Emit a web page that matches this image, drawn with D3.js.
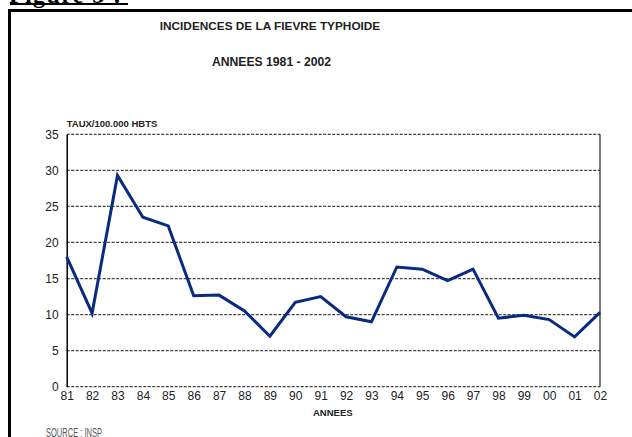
<!DOCTYPE html>
<html><head><meta charset="utf-8">
<script src="https://cdn.jsdelivr.net/npm/d3@7"></script>
<style>body{margin:0;background:#fff}svg{display:block}</style>
</head><body>
<svg id="c" width="632" height="437"></svg>
<script>
const years = ["81","82","83","84","85","86","87","88","89","90","91","92","93","94","95","96","97","98","99","00","01","02"];
const rates = [18.0,10.2,29.3,23.5,22.3,12.6,12.7,10.5,7.0,11.7,12.5,9.7,9.0,16.6,16.3,14.7,16.3,9.5,9.9,9.3,6.9,10.3];
const yTicks = [0,5,10,15,20,25,30,35];
const title1 = "INCIDENCES DE LA FIEVRE TYPHOIDE";
const title2 = "ANNEES 1981 - 2002";

const svg = d3.select("#c");
const m = {l:66.7, r:600, t:134.3, b:386.7};
const x = d3.scalePoint().domain(years).range([m.l, m.r]);
const y = d3.scaleLinear().domain([0,35]).range([m.b, m.t]);

// Figure label
svg.append("text").attr("x",9).attr("y",3).attr("font-family","Liberation Serif, serif")
  .attr("font-weight","bold").attr("font-size",24).attr("textLength",112).text("Figure 3 :");
svg.append("rect").attr("x",10).attr("y",3).attr("width",118).attr("height",2).attr("fill","#000");
// outer frame
svg.append("rect").attr("x",8).attr("y",9).attr("width",624).attr("height",3).attr("fill","#000");
svg.append("rect").attr("x",8).attr("y",9).attr("width",3).attr("height",428).attr("fill","#000");

const tf = "Liberation Sans, Arial, sans-serif";
svg.append("text").attr("x",270).attr("y",30).attr("text-anchor","middle").attr("font-family",tf)
  .attr("font-weight","bold").attr("font-size",11.8).attr("fill","#222").text(title1);
svg.append("text").attr("x",271.5).attr("y",66).attr("text-anchor","middle").attr("font-family",tf)
  .attr("font-weight","bold").attr("font-size",12.2).attr("fill","#222").text(title2);
svg.append("text").attr("x",m.l).attr("y",127).attr("font-family",tf)
  .attr("font-weight","bold").attr("font-size",9.5).attr("fill","#222").text("TAUX/100.000 HBTS");

// gridlines
svg.append("g").selectAll("line").data(yTicks).join("line")
  .attr("x1",m.l).attr("x2",m.r).attr("y1",d=>y(d)).attr("y2",d=>y(d))
  .attr("stroke","#444").attr("stroke-width",1.2).attr("stroke-dasharray","3,1.5");
// right border
svg.append("line").attr("x1",m.r).attr("x2",m.r).attr("y1",m.t).attr("y2",m.b).attr("stroke","#222").attr("stroke-width",1.2);

// y axis
const ya = svg.append("g").attr("transform",`translate(${m.l},0)`)
  .call(d3.axisLeft(y).tickValues(yTicks).tickSize(0).tickPadding(8));
ya.select(".domain").attr("stroke","#000").attr("stroke-width",1.5);
ya.selectAll("text").attr("font-family",tf).attr("font-size",12).attr("fill","#222");
// x axis
const xa = svg.append("g").attr("transform",`translate(0,${m.b})`)
  .call(d3.axisBottom(x).tickSize(0).tickPadding(5));
xa.select(".domain").remove();
xa.selectAll("text").attr("font-family",tf).attr("font-size",12).attr("fill","#222");

svg.append("text").attr("x",313).attr("y",416).attr("font-family",tf)
  .attr("font-weight","bold").attr("font-size",9.5).attr("fill","#222").text("ANNEES");
svg.append("text").attr("x",46).attr("y",437).attr("font-family",tf)
  .attr("font-size",12.5).attr("fill","#555").attr("textLength",56).attr("lengthAdjust","spacingAndGlyphs").text("SOURCE : INSP");

// line
const line = d3.line().x((d,i)=>x(years[i])).y(d=>y(d));
svg.append("path").datum(rates).attr("d",line).attr("fill","none")
  .attr("stroke","#0a2a82").attr("stroke-width",3).attr("stroke-linejoin","miter");
</script>
</body></html>
